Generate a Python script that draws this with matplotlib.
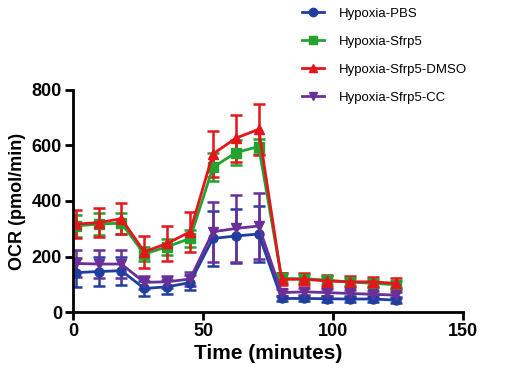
import matplotlib
matplotlib.use("Agg")
import matplotlib.pyplot as plt
import numpy as np

plt.rcParams['font.family'] = ['Liberation Sans', 'DejaVu Sans']

time = [1.0, 9.8, 18.6, 27.4, 36.2, 45.0, 53.8, 62.6, 71.4, 80.2, 89.0, 97.8, 106.6, 115.4, 124.2]

labels = ["Hypoxia-PBS", "Hypoxia-Sfrp5", "Hypoxia-Sfrp5-DMSO", "Hypoxia-Sfrp5-CC"]

pbs = [142, 146, 149, 85, 91, 106, 265, 274, 281, 49, 49, 48, 47, 47, 43]
pbs_err = [53, 52, 50, 27, 25, 28, 98, 96, 102, 10, 10, 10, 10, 10, 10]

sfrp5 = [310, 317, 320, 209, 235, 265, 521, 574, 596, 121, 120, 115, 108, 104, 98]
sfrp5_err = [40, 40, 38, 25, 28, 30, 50, 45, 28, 18, 17, 16, 15, 15, 15]

dmso = [317, 322, 336, 217, 247, 289, 569, 626, 658, 118, 118, 112, 109, 109, 103]
dmso_err = [50, 53, 55, 58, 63, 71, 84, 85, 92, 22, 22, 20, 20, 18, 18]

cc = [175, 173, 173, 107, 109, 119, 289, 301, 310, 70, 73, 70, 67, 64, 61]
cc_err = [48, 50, 50, 23, 22, 25, 108, 120, 120, 12, 12, 12, 12, 12, 12]

series = [pbs, sfrp5, dmso, cc]
errors = [pbs_err, sfrp5_err, dmso_err, cc_err]
colors = ["#1f3ea0", "#23a22e", "#e4151b", "#6b2f98"]
markers = ["o", "s", "^", "v"]

fig = plt.figure(figsize=(5.05, 3.76), dpi=100)
ax = fig.add_axes([0.1446, 0.170, 0.7724, 0.591])

for vals, err, c, m, lab in zip(series, errors, colors, markers, labels):
    ax.errorbar(time, vals, yerr=err, color=c, marker=m, markersize=6.5,
                linewidth=2.0, elinewidth=1.8, capsize=4, capthick=1.8,
                label=lab)

ax.set_xlim(0, 150)
ax.set_ylim(0, 800)
ax.set_xticks([0, 50, 100, 150])
ax.set_yticks([0, 200, 400, 600, 800])
for s in ['top', 'right']:
    ax.spines[s].set_visible(False)
for s in ['left', 'bottom']:
    ax.spines[s].set_linewidth(2)
ax.tick_params(width=2, length=6, labelsize=13, pad=2)
for t in ax.get_xticklabels() + ax.get_yticklabels():
    t.set_fontweight('bold')
ax.set_xlabel("Time (minutes)", fontsize=15, fontweight='bold', labelpad=3)
ax.set_ylabel("OCR (pmol/min)", fontsize=13, fontweight='bold', labelpad=4)

leg_handles = [plt.Line2D([], [], color=c, marker=m, markersize=6, linewidth=2)
               for c, m in zip(colors, markers)]
fig.legend(leg_handles, labels, loc='upper left', bbox_to_anchor=(0.574, 1.012),
           frameon=False, fontsize=9.5, handlelength=1.7, labelspacing=1.2,
           handletextpad=1.1)

fig.savefig("out.png", dpi=100)
